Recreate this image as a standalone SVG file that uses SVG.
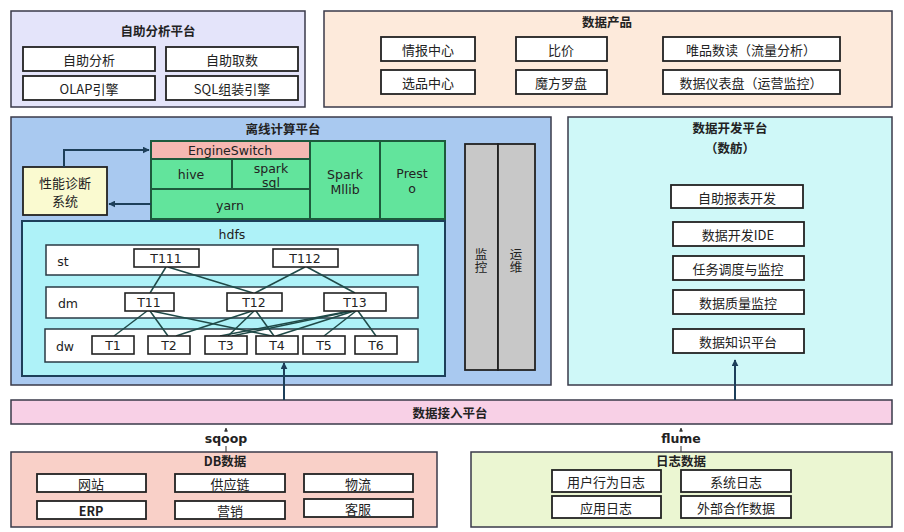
<svg xmlns="http://www.w3.org/2000/svg" width="904" height="532" viewBox="0 0 904 532">
<defs>
<marker id="ah" viewBox="0 0 10 10" refX="9" refY="5" markerWidth="7" markerHeight="7" orient="auto" markerUnits="userSpaceOnUse">
<path d="M0,0 L10,5 L0,10 z" fill="#1d3f5a"/>
</marker>
<marker id="ahs" viewBox="0 0 10 10" refX="9" refY="5" markerWidth="4" markerHeight="4" orient="auto" markerUnits="userSpaceOnUse">
<path d="M0,0 L10,5 L0,10 z" fill="#333"/>
</marker>
<style>
text{font-family:"Noto Sans CJK SC","DejaVu Sans",sans-serif;font-size:13px;fill:#222;text-anchor:middle;dominant-baseline:central}
.lat{font-family:"DejaVu Sans","Noto Sans CJK SC",sans-serif;font-size:12.5px}
.t{font-weight:bold;font-size:12.5px}
.v{writing-mode:tb;font-size:12.5px;letter-spacing:1px}
.panel{stroke:#3a3a4a;stroke-width:1.5}
.box{fill:#fff;stroke:#222;stroke-width:1.8}
.g{fill:#62e49c;stroke:#1d5a3c;stroke-width:2}
.row{fill:#fff;stroke:#2a3a44;stroke-width:1.5}
.tb{fill:#fff;stroke:#222;stroke-width:1.6}
.ln{stroke:#1f4a48;stroke-width:1.5;fill:none}
.ar{stroke:#1d3f5a;stroke-width:2;fill:none}
</style>
</defs>
<rect width="904" height="532" fill="#fff"/>

<g id="self-analysis">
<rect class="panel" x="11" y="11" width="294" height="96" fill="#e4e4fa"/>
<text class="t" x="158" y="30">自助分析平台</text>
<rect class="box" x="23" y="47" width="132" height="24"/><text x="89" y="59">自助分析</text>
<rect class="box" x="166" y="47" width="132" height="24"/><text x="232" y="59">自助取数</text>
<rect class="box" x="23" y="76" width="132" height="24"/><text x="89" y="88">OLAP引擎</text>
<rect class="box" x="166" y="76" width="132" height="24"/><text x="232" y="88">SQL组装引擎</text>
</g>

<g id="data-products">
<rect class="panel" x="324" y="11" width="568" height="96" fill="#fdeadb"/>
<text class="t" x="607" y="21">数据产品</text>
<rect class="box" x="381" y="37" width="94" height="24"/><text x="428" y="49">情报中心</text>
<rect class="box" x="516" y="37" width="91" height="24"/><text x="561" y="49">比价</text>
<rect class="box" x="663" y="37" width="177" height="24"/><text x="751" y="49">唯品数读（流量分析）</text>
<rect class="box" x="381" y="70" width="94" height="24"/><text x="428" y="82">选品中心</text>
<rect class="box" x="516" y="70" width="91" height="24"/><text x="561" y="82">魔方罗盘</text>
<rect class="box" x="663" y="70" width="177" height="24"/><text x="751" y="82">数据仪表盘（运营监控）</text>
</g>

<g id="offline">
<rect class="panel" x="11" y="117" width="540" height="268" fill="#a9c9f0"/>
<text class="t" x="283" y="128">离线计算平台</text>
</g>

<g id="perf">
<rect x="23" y="167" width="84" height="48" fill="#fafad0" stroke="#222" stroke-width="1.8"/>
<text x="65" y="182" font-size="12">性能诊断</text>
<text x="65" y="200" font-size="12">系统</text>
</g>

<g id="engine">
<rect x="151" y="141" width="159" height="18" fill="#f6b8b2" stroke="#1d5a3c" stroke-width="2"/>
<text class="lat" x="230" y="150">EngineSwitch</text>
<rect class="g" x="151" y="159" width="81" height="30"/><text class="lat" x="191" y="174">hive</text>
<rect class="g" x="232" y="159" width="78" height="30"/>
<text class="lat" x="271" y="168">spark</text><text class="lat" x="271" y="182">sql</text>
<rect class="g" x="151" y="189" width="159" height="30"/><text class="lat" x="230" y="205">yarn</text>
<rect class="g" x="310" y="141" width="70" height="78"/>
<text class="lat" x="345" y="174">Spark</text><text class="lat" x="345" y="189">Mllib</text>
<rect class="g" x="380" y="141" width="65" height="78"/>
<text class="lat" x="412" y="173">Prest</text><text class="lat" x="412" y="188">o</text>
</g>

<g id="hdfs">
<rect x="22" y="221" width="423" height="155" fill="#aef2f8" stroke="#1d3f5a" stroke-width="2"/>
<text class="lat" x="232" y="234">hdfs</text>
<rect class="row" x="46" y="245" width="372" height="30"/>
<text class="lat" x="63" y="261">st</text>
<rect class="row" x="46" y="287" width="372" height="31"/>
<text class="lat" x="68" y="303">dm</text>
<rect class="row" x="45" y="329" width="373" height="33"/>
<text class="lat" x="65" y="346">dw</text>
</g>

<g id="monitor">
<rect x="465" y="144" width="33" height="226" fill="#c8c8c8" stroke="#222" stroke-width="1.8"/>
<text class="v" x="481" y="261">监控</text>
<rect x="498" y="144" width="37" height="226" fill="#c8c8c8" stroke="#222" stroke-width="1.8"/>
<text class="v" x="516" y="261">运维</text>
</g>

<g id="dev-platform">
<rect class="panel" x="568" y="117" width="324" height="268" fill="#cff8f8"/>
<text class="t" x="730" y="127">数据开发平台</text>
<text class="t" x="730" y="147">（数舫）</text>
<rect class="box" x="671" y="185" width="132" height="23"/><text x="737" y="197">自助报表开发</text>
<rect class="box" x="673" y="222" width="131" height="24"/><text x="738" y="234">数据开发IDE</text>
<rect class="box" x="673" y="256" width="131" height="24"/><text x="738" y="268">任务调度与监控</text>
<rect class="box" x="673" y="290" width="131" height="24"/><text x="738" y="302">数据质量监控</text>
<rect class="box" x="673" y="329" width="131" height="24"/><text x="738" y="341">数据知识平台</text>
</g>

<g id="ingest">
<rect class="panel" x="11" y="400" width="881" height="24" fill="#f8d0e6"/>
<text class="t" x="450" y="412">数据接入平台</text>
</g>

<g id="db-data">
<rect class="panel" x="11" y="452" width="426" height="75" fill="#f9d0c8"/>
<text class="t" x="225" y="460">DB数据</text>
<rect class="box" x="37" y="474" width="109" height="18"/><text x="91" y="483">网站</text>
<rect class="box" x="175" y="474" width="110" height="18"/><text x="230" y="483">供应链</text>
<rect class="box" x="304" y="474" width="109" height="18"/><text x="358" y="483">物流</text>
<rect class="box" x="37" y="501" width="109" height="18"/><text class="t" x="91" y="510">ERP</text>
<rect class="box" x="175" y="501" width="110" height="18"/><text x="230" y="510">营销</text>
<rect class="box" x="304" y="499" width="109" height="18"/><text x="358" y="508">客服</text>
</g>

<g id="log-data">
<rect class="panel" x="471" y="452" width="421" height="75" fill="#ebf6d2"/>
<text class="t" x="681" y="460">日志数据</text>
<rect class="box" x="552" y="470" width="109" height="22"/><text x="606" y="481">用户行为日志</text>
<rect class="box" x="681" y="470" width="110" height="22"/><text x="736" y="481">系统日志</text>
<rect class="box" x="552" y="496" width="109" height="22"/><text x="606" y="507">应用日志</text>
<rect class="box" x="681" y="496" width="110" height="22"/><text x="736" y="507">外部合作数据</text>
</g>

<g id="connectors">
<line class="ln" x1="166" y1="267" x2="150" y2="293"/>
<line class="ln" x1="168" y1="267" x2="253" y2="293"/>
<line class="ln" x1="305" y1="267" x2="255" y2="293"/>
<line class="ln" x1="307" y1="267" x2="355" y2="293"/>
<line class="ln" x1="147" y1="311" x2="114" y2="336"/>
<line class="ln" x1="150" y1="311" x2="168" y2="336"/>
<line class="ln" x1="152" y1="311" x2="272" y2="336"/>
<line class="ln" x1="252" y1="311" x2="176" y2="336"/>
<line class="ln" x1="254" y1="311" x2="228" y2="336"/>
<line class="ln" x1="256" y1="311" x2="274" y2="336"/>
<line class="ln" x1="350" y1="311" x2="220" y2="336"/>
<line class="ln" x1="352" y1="311" x2="232" y2="336"/>
<line class="ln" x1="354" y1="311" x2="276" y2="336"/>
<line class="ln" x1="356" y1="311" x2="324" y2="336"/>
<line class="ln" x1="358" y1="311" x2="376" y2="336"/>
<polyline class="ar" points="64,167 64,150 149,150" marker-end="url(#ah)"/>
<line class="ar" x1="151" y1="204" x2="109" y2="204" marker-end="url(#ah)"/>
<line class="ar" x1="284" y1="400" x2="284" y2="363" marker-end="url(#ah)"/>
<line class="ar" x1="735" y1="400" x2="735" y2="360" marker-end="url(#ah)"/>
<line x1="226" y1="432" x2="226" y2="428" stroke="#333" stroke-width="1" marker-end="url(#ahs)"/>
<line x1="226" y1="446" x2="226" y2="452" stroke="#333" stroke-width="1"/>
<line x1="681" y1="432" x2="681" y2="428" stroke="#333" stroke-width="1" marker-end="url(#ahs)"/>
<line x1="681" y1="446" x2="681" y2="452" stroke="#333" stroke-width="1"/>
</g>

<g id="tables">
<rect class="tb" x="134" y="249" width="65" height="18"/><text class="lat" x="166" y="258">T111</text>
<rect class="tb" x="273" y="249" width="65" height="18"/><text class="lat" x="305" y="258">T112</text>
<rect class="tb" x="125" y="293" width="49" height="18"/><text class="lat" x="149" y="302">T11</text>
<rect class="tb" x="227" y="293" width="55" height="18"/><text class="lat" x="254" y="302">T12</text>
<rect class="tb" x="324" y="293" width="62" height="18"/><text class="lat" x="355" y="302">T13</text>
<rect class="tb" x="92" y="336" width="42" height="18"/><text class="lat" x="113" y="345">T1</text>
<rect class="tb" x="148" y="336" width="42" height="18"/><text class="lat" x="169" y="345">T2</text>
<rect class="tb" x="205" y="336" width="42" height="18"/><text class="lat" x="226" y="345">T3</text>
<rect class="tb" x="256" y="336" width="42" height="18"/><text class="lat" x="277" y="345">T4</text>
<rect class="tb" x="303" y="336" width="42" height="18"/><text class="lat" x="324" y="345">T5</text>
<rect class="tb" x="355" y="336" width="42" height="18"/><text class="lat" x="376" y="345">T6</text>
</g>

<g id="labels">
<text class="lat t" x="226" y="438">sqoop</text>
<text class="lat t" x="681" y="438">flume</text>
</g>
</svg>
